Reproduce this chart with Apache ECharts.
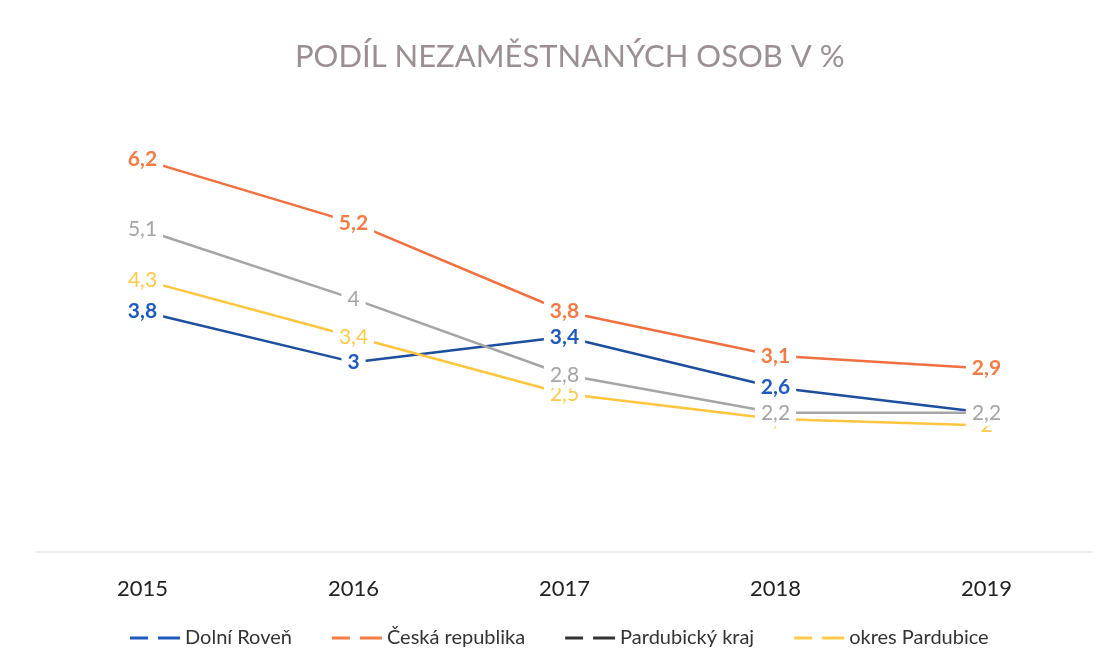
<!DOCTYPE html>
<html>
<head>
<meta charset="utf-8">
<script src="https://cdn.jsdelivr.net/npm/echarts@6/dist/echarts.min.js"></script>
<style>
  html, body { margin: 0; padding: 0; background: #fff; }
  #graf { width: 1109px; height: 669px; }
</style>
</head>
<body>
<div id="graf"></div>
<script>
// data
const roky = ['2015', '2016', '2017', '2018', '2019'];
const dolniRoven = [3.8, 3.0, 3.4, 2.6, 2.2];
const ceskaRepublika = [6.2, 5.2, 3.8, 3.1, 2.9];
const pardubickyKraj = [5.1, 4.0, 2.8, 2.2, 2.2];
const okresPardubice = [4.3, 3.4, 2.5, 2.1, 2.0];

const font = 'Lato';
const ikona = 'path://M0,0h18v3h-18z M28,0h22v3h-22z';

const serie = (jmeno, data, barva, barvaPopisku, tucne) => ({
  name: jmeno,
  type: 'line',
  data: data,
  symbol: 'circle',
  symbolSize: 0.1,
  showSymbol: true,
  lineStyle: { color: barva, width: 2.5 },
  itemStyle: { color: barva },
  label: {
    show: true,
    position: 'inside',
    color: barvaPopisku,
    fontFamily: font,
    fontSize: 21,
    fontWeight: tucne ? 'bold' : 'normal',
    backgroundColor: '#fff',
    padding: [3, 6],
    formatter: (p) => String(p.value).replace('.', ',')
  }
});

let myChart = echarts.init(document.getElementById('graf'));
const option = {
  backgroundColor: '#fff',
  animation: false,
  title: {
    text: 'PODÍL NEZAMĚSTNANÝCH OSOB V %',
    left: 290,
    top: 36,
    textStyle: { color: '#9a8f91', fontFamily: font, fontSize: 31, fontWeight: 'normal' }
  },
  legend: {
    bottom: 16,
    left: 125,
    itemGap: 40,
    itemWidth: 50,
    itemHeight: 3,
    textStyle: { color: '#333', fontFamily: font, fontSize: 20 },
    data: [
      { name: 'Dolní Roveň', icon: ikona, itemStyle: { color: '#1f5bbd' } },
      { name: 'Česká republika', icon: ikona, itemStyle: { color: '#f47b45' } },
      { name: 'Pardubický kraj', icon: ikona, itemStyle: { color: '#333' } },
      { name: 'okres Pardubice', icon: ikona, itemStyle: { color: '#ffc94a' } }
    ]
  },
  grid: { left: 37, right: 17, top: 109, bottom: 117 },
  xAxis: {
    type: 'category',
    data: roky,
    axisLine: { lineStyle: { color: '#eeeeee', width: 2 } },
    axisTick: { show: false },
    axisLabel: { color: '#222', fontFamily: font, fontSize: 22, margin: 26 }
  },
  yAxis: {
    type: 'value',
    min: 0,
    max: 7,
    show: false,
    splitLine: { show: false }
  },
  series: [
    serie('Dolní Roveň', dolniRoven, '#1d4f9f', '#1f5bbd', true),
    serie('Česká republika', ceskaRepublika, '#f0703f', '#f47b45', true),
    serie('okres Pardubice', okresPardubice, '#ffc53d', '#ffc94a', false),
    serie('Pardubický kraj', pardubickyKraj, '#a5a5a5', '#a5a5a5', false)
  ]
};
myChart.setOption(option);
</script>
</body>
</html>
